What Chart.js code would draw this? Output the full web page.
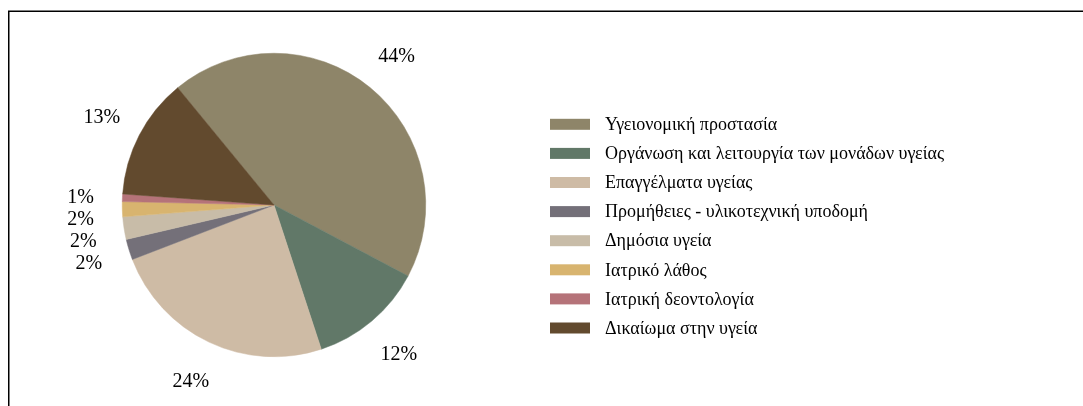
<!DOCTYPE html>
<html><head><meta charset="utf-8">
<script src="https://cdn.jsdelivr.net/npm/chart.js@4/dist/chart.umd.min.js"></script>
<style>html,body{margin:0;padding:0;background:#fff;} #wrap{position:relative;width:1083px;height:406px;}</style>
</head><body><div id="wrap"><canvas id="c" width="1083" height="406"></canvas></div>
<script>
const categories = [
  'Υγειονομική προστασία',
  'Οργάνωση και λειτουργία των μονάδων υγείας',
  'Επαγγέλματα υγείας',
  'Προμήθειες - υλικοτεχνική υποδομή',
  'Δημόσια υγεία',
  'Ιατρικό λάθος',
  'Ιατρική δεοντολογία',
  'Δικαίωμα στην υγεία'
];
const values = [43.7, 12.2, 24.2, 2.2, 2.4, 1.6, 0.8, 12.9];
const colors = ['#8E8569', '#617868', '#CEBBA5', '#747079', '#C8BCA8', '#D8B46F', '#B57379', '#624A2E'];

const FONT = '"Liberation Serif", "DejaVu Serif", serif';

const framePlugin = {
  id: 'frame',
  beforeDraw(chart) {
    const ctx = chart.ctx;
    ctx.save();
    ctx.strokeStyle = '#000';
    ctx.lineWidth = 1.5;
    ctx.beginPath();
    ctx.moveTo(8.75, 406);
    ctx.lineTo(8.75, 11.25);
    ctx.lineTo(1083, 11.25);
    ctx.stroke();
    ctx.restore();
  }
};

const labelPlugin = {
  id: 'pctLabels',
  afterDatasetsDraw(chart) {
    const ctx = chart.ctx;
    const meta = chart.getDatasetMeta(0);
    const total = values.reduce((a, b) => a + b, 0);
    const items = meta.data.map((arc, i) => {
      const p = arc.getProps(['x', 'y', 'startAngle', 'endAngle', 'outerRadius'], true);
      const mid = (p.startAngle + p.endAngle) / 2;
      const d = p.outerRadius + 42;
      return { i, cx: p.x, cy: p.y, d, x: p.x + Math.cos(mid) * d, y: p.y + Math.sin(mid) * d,
               text: Math.round(values[i] / total * 100) + '%' };
    });
    const minGap = 22;
    ['L', 'R'].forEach(side => {
      const arr = items.filter(it => side === 'L' ? it.x < it.cx : it.x >= it.cx).sort((a, b) => a.y - b.y);
      for (let k = 1; k < arr.length; k++) {
        if (arr[k].y - arr[k - 1].y < minGap) {
          arr[k].y = arr[k - 1].y + minGap;
          const dy = arr[k].y - arr[k].cy;
          const dx = Math.sqrt(Math.max(arr[k].d * arr[k].d - dy * dy, 0));
          arr[k].x = side === 'L' ? arr[k].cx - dx : arr[k].cx + dx;
        }
      }
    });
    ctx.save();
    ctx.fillStyle = '#000';
    ctx.font = '20px ' + FONT;
    ctx.textAlign = 'center';
    ctx.textBaseline = 'middle';
    items.forEach(it => ctx.fillText(it.text, it.x, it.y + 2));
    ctx.restore();
  }
};

const legendPlugin = {
  id: 'sideLegend',
  afterDraw(chart) {
    const ctx = chart.ctx;
    const x0 = 550, y0 = 124.3, row = 29.1, bw = 40, bh = 11, tx = 55;
    ctx.save();
    ctx.font = '18px ' + FONT;
    ctx.textBaseline = 'middle';
    ctx.textAlign = 'left';
    categories.forEach((c, i) => {
      const y = y0 + i * row;
      ctx.fillStyle = colors[i];
      ctx.fillRect(x0, y - bh / 2, bw, bh);
      ctx.fillStyle = '#000';
      ctx.fillText(c, x0 + tx, y + 1);
    });
    ctx.restore();
  }
};

new Chart(document.getElementById('c'), {
  type: 'pie',
  data: {
    labels: categories,
    datasets: [{
      data: values,
      backgroundColor: colors,
      borderColor: colors,
      borderWidth: 0.5
    }]
  },
  options: {
    responsive: false,
    animation: false,
    rotation: -39.4,
    layout: { padding: { top: 53, bottom: 49, left: 0, right: 535 } },
    plugins: { legend: { display: false }, tooltip: { enabled: false } }
  },
  plugins: [framePlugin, labelPlugin, legendPlugin]
});
</script>
</body></html>
